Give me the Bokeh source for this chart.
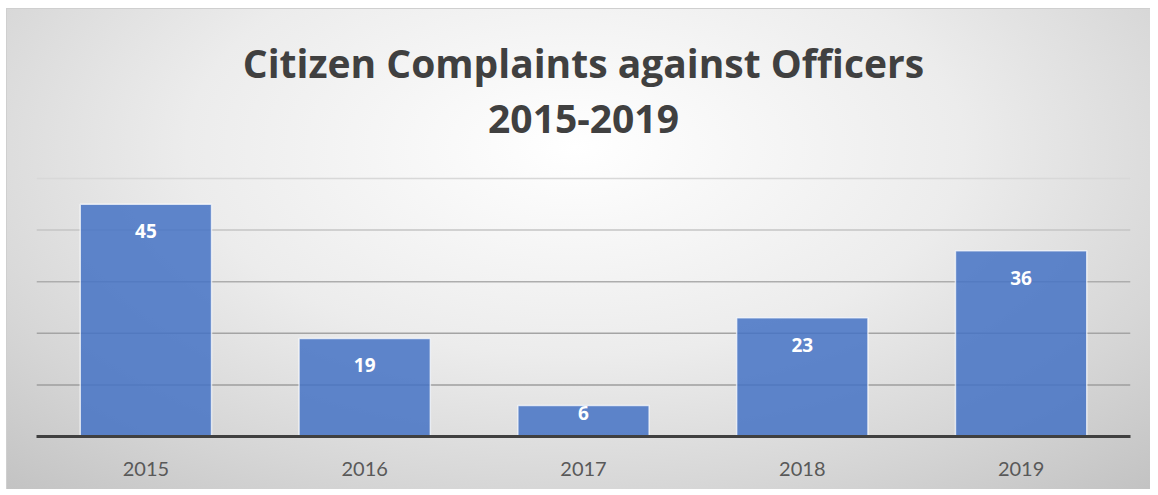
from bokeh.plotting import figure
from bokeh.models import ColumnDataSource, FactorRange, LabelSet, Label, Span, Range1d
from bokeh.core.properties import value
from bokeh.embed import file_html
from bokeh.resources import INLINE

# ---- data ----
years = ["2015", "2016", "2017", "2018", "2019"]
complaints = [45, 19, 6, 23, 36]
title_line1 = "Citizen Complaints against Officers"
title_line2 = "2015-2019"
grid_values = [10, 20, 30, 40, 50]

# ---- layout (page pixels) ----
W, H = 1150, 489
ML, MR, MT, MB = 36, 20, 8, 53
frame_h = H - MT - MB            # 428
axis_y = MT + frame_h             # page y of value 0
top50_y = 178                     # page y of value 50
px_per_unit = (axis_y - top50_y) / 50.0
ytop = frame_h / px_per_unit

def y_of(page_y):
    return (axis_y - page_y) / px_per_unit

offsets = [-27 if v * px_per_unit > 60 else -7 for v in complaints]
src = ColumnDataSource(dict(x=years, top=complaints,
                            label=[str(v) for v in complaints], off=offsets))

p = figure(width=W, height=H, x_range=FactorRange(factors=years, range_padding=0),
           y_range=Range1d(0, ytop), output_backend="svg", toolbar_location=None,
           y_axis_location=None, min_border_left=ML, min_border_right=MR,
           min_border_top=MT, min_border_bottom=MB)
p.background_fill_color = None
p.border_fill_color = None
p.outline_line_color = None
p.styles = {"background": "radial-gradient(ellipse 75% 95% at 50% 30%, #ffffff 0%, #ececec 45%, #d6d6d6 75%, #c2c2c2 100%)",
            "box-shadow": "inset 6px 8px 0 0 #ffffff, inset 7px 9px 0 0 #cfcfcf"}

p.xgrid.grid_line_color = None
p.ygrid.grid_line_color = None

grid_colors = {10: "#9e9e9e", 20: "#a4a4a4", 30: "#adadad", 40: "#c4c4c4", 50: "#d8d8d8"}
for g in grid_values:
    p.add_layout(Span(location=g, dimension="width", line_color=grid_colors[g],
                      line_width=1.5, level="underlay"))

p.vbar(x="x", top="top", width=0.6, source=src, fill_color="#4472C4", fill_alpha=0.85,
       line_color="white", line_alpha=0.7, line_width=1.5)

p.add_layout(LabelSet(x="x", y="top", text="label", y_offset="off", source=src,
                      text_align="center", text_baseline="middle",
                      text_font=value("Open Sans"), text_font_style="bold",
                      text_font_size="19px", text_color="white"))

ax = p.xaxis[0]
ax.axis_line_color = "#404040"
ax.axis_line_width = 3
ax.major_tick_line_color = None
ax.minor_tick_line_color = None
ax.major_label_standoff = 19
ax.major_label_text_font = "Lato"
ax.major_label_text_font_size = "20px"
ax.major_label_text_color = "#595959"

p.add_layout(Label(x=2.5, y=y_of(62), text=title_line1, text_align="center",
                   text_baseline="middle", text_font="Open Sans", text_font_style="bold",
                   text_font_size="39px", text_color="#404040"))
p.add_layout(Label(x=2.5, y=y_of(118), text=title_line2, text_align="center",
                   text_baseline="middle", text_font="Open Sans", text_font_style="bold",
                   text_font_size="39px", text_color="#404040"))

open("out.html", "w").write(file_html(p, INLINE))
